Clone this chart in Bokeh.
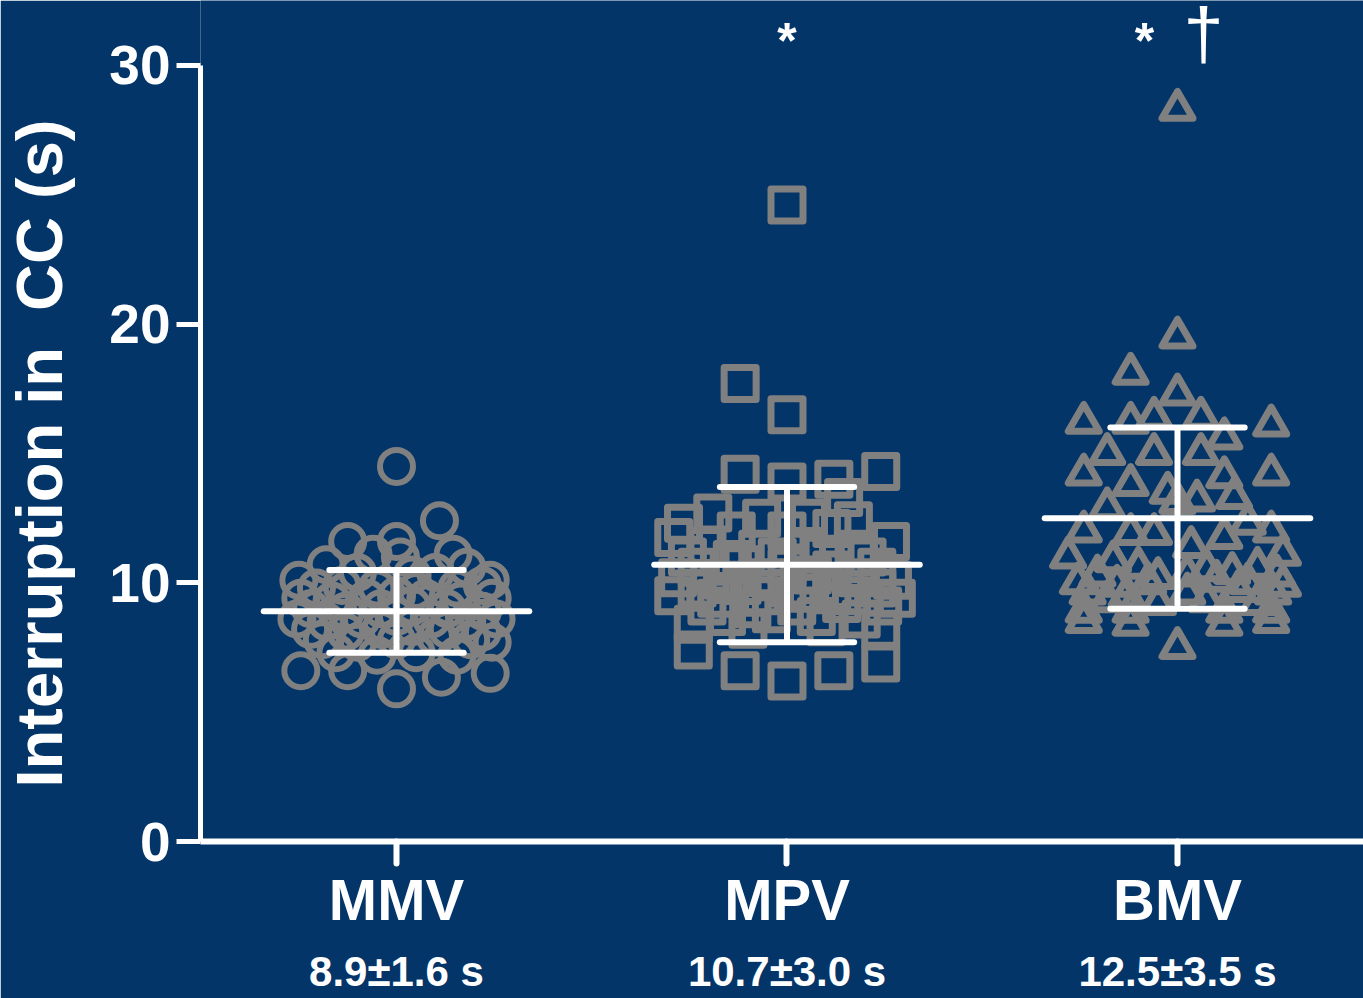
from bokeh.plotting import figure
from bokeh.models import Range1d, FixedTicker, Label, ColumnDataSource, LinearAxis
from bokeh.embed import file_html
from bokeh.resources import INLINE

# ---------------- data ----------------
categories = ["MMV", "MPV", "BMV"]
means = [8.9, 10.7, 12.5]
sds = [1.6, 3.0, 3.5]
y_ticks = [0, 10, 20, 30]

mmv_y = [14.5, 12.4, 11.6, 11.6, 11.1, 11.0, 11.1, 10.7, 10.6, 10.1, 10.1, 10.4, 10.3, 10.4,
         9.8, 9.9, 9.8, 9.7, 9.8, 9.9,
         9.4, 9.3, 9.4, 9.5, 9.4, 9.3, 9.4,
         9.0, 8.9, 9.0, 9.1, 9.0, 8.9,
         8.6, 8.5, 8.6, 8.7, 8.6, 8.5, 8.6,
         8.2, 8.1, 8.2, 8.3, 8.2, 8.1,
         7.8, 7.7, 7.8, 7.9, 7.8, 7.7,
         7.3, 7.2, 7.3, 7.2,
         6.6, 6.6, 6.5, 6.35, 5.9]
mmv_dx = [0.0, 0.11, -0.125, 0.0, -0.06, 0.01, 0.145, -0.18, 0.18, -0.25, 0.24, -0.10, 0.04, 0.10,
          -0.205, -0.14, -0.05, 0.05, 0.155, 0.22,
          -0.245, -0.165, -0.075, 0.0, 0.075, 0.165, 0.245,
          -0.22, -0.13, -0.04, 0.04, 0.13, 0.22,
          -0.255, -0.18, -0.09, 0.0, 0.09, 0.18, 0.255,
          -0.22, -0.13, -0.04, 0.04, 0.13, 0.22,
          -0.19, -0.10, 0.0, 0.10, 0.19, 0.245,
          -0.155, -0.05, 0.05, 0.155,
          -0.245, -0.125, 0.24, 0.115, 0.0]

mpv_y = [24.6, 17.7, 16.5, 14.3, 14.2, 14.0, 13.9, 13.3,
         12.7, 12.5, 12.5, 12.4, 12.3,
         12.0, 12.0, 12.1, 11.75, 11.6,
         11.4, 11.3, 11.4, 11.3,
         11.0, 10.9, 11.0, 11.1, 11.0,
         10.6, 10.7, 10.6, 10.5, 10.6,
         10.2, 10.1, 10.2, 10.3, 10.2, 10.1,
         9.8, 9.9, 9.8, 9.7, 9.8,
         9.5, 9.4, 9.5, 9.6, 9.5, 9.4,
         9.1, 9.0, 9.1, 9.2, 9.1,
         8.7, 8.8, 8.7, 8.6,
         8.4, 8.2, 8.3, 8.2,
         7.4, 6.9, 6.6, 6.6, 6.2]
mpv_dx = [0.0, -0.12, 0.0, 0.24, -0.12, 0.12, 0.0, 0.145,
          -0.19, -0.065, 0.055, 0.17, -0.265,
          -0.13, 0.0, 0.115, -0.29, 0.265,
          -0.205, -0.075, 0.05, 0.18,
          -0.255, -0.14, -0.025, 0.09, 0.205,
          -0.23, -0.115, 0.0, 0.115, 0.23,
          -0.28, -0.165, -0.05, 0.065, 0.18, 0.27,
          -0.23, -0.115, 0.0, 0.115, 0.23,
          -0.29, -0.18, -0.065, 0.05, 0.165, 0.28,
          -0.205, -0.09, 0.025, 0.14, 0.245,
          -0.155, -0.04, 0.075, 0.19,
          -0.24, -0.10, 0.10, 0.24,
          -0.24, 0.24, -0.12, 0.12, 0.0]

bmv_y = [28.3, 19.5, 18.1, 17.3,
         16.4, 16.4, 16.2, 16.2, 16.1, 15.6,
         15.0, 15.0, 15.0,
         14.2, 14.1, 14.2, 13.8, 13.5, 13.3, 13.1, 13.2, 12.9, 12.3,
         12.0, 11.9, 11.9, 12.0, 11.75, 11.4, 11.1, 11.0, 10.85,
         10.6, 10.5, 10.6,
         10.3, 10.2, 10.3, 10.4, 10.3,
         10.0, 9.9, 10.0, 10.1, 10.0, 9.9,
         9.6, 9.5, 9.6, 9.7, 9.6,
         9.3, 9.2, 9.3, 9.2,
         8.9, 8.9, 8.9, 8.9,
         8.5, 8.5, 8.4, 8.4, 7.5]
bmv_dx = [0.0, 0.0, -0.12, 0.0,
          -0.06, 0.06, -0.24, -0.12, 0.24, 0.12,
          -0.18, -0.06, 0.06,
          -0.24, 0.12, 0.24, -0.12, -0.025, 0.145, 0.0, 0.05, -0.18, 0.18,
          -0.24, -0.12, -0.06, 0.24, 0.12, 0.035, 0.27, -0.28, -0.165,
          -0.10, 0.075, 0.205,
          -0.205, -0.05, 0.025, 0.14, 0.255,
          -0.255, -0.155, -0.075, 0.10, 0.18, 0.27,
          -0.23, -0.13, 0.025, 0.155, 0.245,
          -0.18, -0.05, 0.075, 0.205,
          -0.24, -0.12, 0.12, 0.24,
          -0.24, 0.24, -0.12, 0.12, 0.0]

y_title = "Interruption in\u00a0 CC (s)"

# ---------------- style ----------------
BG = "#033569"
GRAY = "#808080"
WHITE = "#ffffff"
FONT = "Liberation Sans"

p = figure(width=1363, height=998, output_backend="svg", toolbar_location=None,
           x_range=Range1d(-0.5019, 2.4763), y_range=Range1d(0, 32.51),
           min_border_left=200, min_border_right=0, min_border_top=0, min_border_bottom=157,
           background_fill_color=BG, border_fill_color=BG, outline_line_color=None)
p.grid.visible = False

# y axis
ya = p.yaxis[0]
ya.ticker = FixedTicker(ticks=y_ticks)
ya.bounds = (0, 30)
ya.axis_line_color = WHITE
ya.axis_line_width = 5
ya.major_tick_line_color = WHITE
ya.major_tick_line_width = 5
ya.major_tick_out = 24
ya.major_tick_in = 0
ya.minor_tick_line_color = None
ya.major_label_text_color = WHITE
ya.major_label_text_font = FONT
ya.major_label_text_font_style = "bold"
ya.major_label_text_font_size = "55px"
ya.major_label_standoff = 6
# trailing en spaces centre the visible title on the 0-30 span rather than the whole frame
ya.axis_label = y_title + "\u2002\u2002"
ya.axis_label_text_color = WHITE
ya.axis_label_text_font = FONT
ya.axis_label_text_font_style = "bold"
ya.axis_label_text_font_size = "65px"
ya.axis_label_standoff = 30

# x axis (category names)
xa = p.xaxis[0]
xa.ticker = FixedTicker(ticks=list(range(len(categories))))
xa.major_label_overrides = {i: c for i, c in enumerate(categories)}
xa.axis_line_color = WHITE
xa.axis_line_width = 6
xa.major_tick_line_color = WHITE
xa.major_tick_line_width = 6
xa.major_tick_line_cap = "round"
xa.major_tick_out = 22
xa.major_tick_in = 0
xa.minor_tick_line_color = None
xa.major_label_text_color = WHITE
xa.major_label_text_font = FONT
xa.major_label_text_font_style = "bold"
xa.major_label_text_font_size = "58px"
xa.major_label_standoff = 3

# second axis below for mean ± SD text
stats = {i: f"{m}\u00b1{s} s" for i, (m, s) in enumerate(zip(means, sds))}
xa2 = LinearAxis(ticker=FixedTicker(ticks=list(range(len(categories)))),
                 major_label_overrides=stats, axis_line_color=None,
                 major_tick_line_color=None, minor_tick_line_color=None,
                 major_tick_out=0, major_tick_in=0, major_label_standoff=13,
                 major_label_text_color=WHITE, major_label_text_font=FONT,
                 major_label_text_font_style="bold", major_label_text_font_size="42px")
p.add_layout(xa2, "below")

# points
groups = [(mmv_y, mmv_dx, "circle", 33, 6),
          (mpv_y, mpv_dx, "square", 32, 7),
          (bmv_y, bmv_dx, "triangle", 31, 7)]
for i, (ys, dxs, mk, sz, lw) in enumerate(groups):
    src = ColumnDataSource(dict(x=[i + d for d in dxs], y=ys))
    p.scatter("x", "y", source=src, marker=mk, size=sz, fill_color=None,
              line_color=GRAY, line_width=lw, line_join="round")

# mean and SD
MEAN_HW = 0.34
CAP_HW = 0.172
xs = list(range(len(categories)))
lo = [m - s for m, s in zip(means, sds)]
hi = [m + s for m, s in zip(means, sds)]
p.segment(x0=[x - MEAN_HW for x in xs], x1=[x + MEAN_HW for x in xs], y0=means, y1=means,
          line_color=WHITE, line_width=6, line_cap="round")
p.segment(x0=xs, x1=xs, y0=lo, y1=hi, line_color=WHITE, line_width=6)
p.segment(x0=[x - CAP_HW for x in xs] * 2, x1=[x + CAP_HW for x in xs] * 2,
          y0=lo + hi, y1=lo + hi, line_color=WHITE, line_width=6, line_cap="round")

# significance marks
p.add_layout(Label(x=1.0, y=30.95, text="*", text_align="center", text_baseline="alphabetic",
                   text_color=WHITE, text_font=FONT, text_font_style="bold", text_font_size="50px"))
p.add_layout(Label(x=1.9155, y=30.95, text="*", text_align="center", text_baseline="alphabetic",
                   text_color=WHITE, text_font=FONT, text_font_style="bold", text_font_size="50px"))
p.add_layout(Label(x=2.0666, y=31.27, text="\u2020", text_align="center", text_baseline="alphabetic",
                   text_color=WHITE, text_font=FONT, text_font_size="72px"))

open("out.html", "w").write(file_html(p, INLINE))
